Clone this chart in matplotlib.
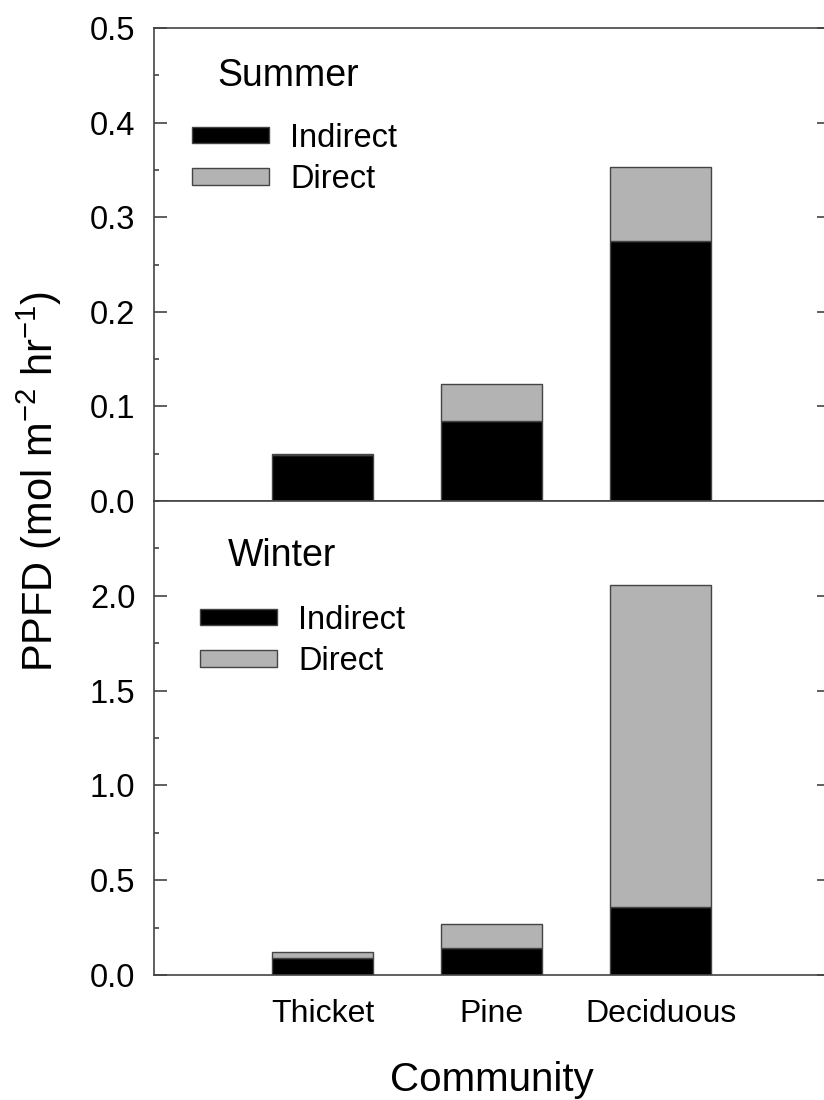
import matplotlib
matplotlib.use("Agg")
import matplotlib.pyplot as plt
from matplotlib.patches import Patch
from matplotlib.ticker import MultipleLocator, FormatStrFormatter

communities = ["Thicket", "Pine", "Deciduous"]
summer_indirect = [0.049, 0.085, 0.275]
summer_direct = [0.001, 0.039, 0.078]
winter_indirect = [0.088, 0.141, 0.360]
winter_direct = [0.035, 0.127, 1.698]

plt.rcParams['font.family'] = ['Liberation Sans', 'DejaVu Sans']
plt.rcParams['mathtext.default'] = 'regular'

edge = '#444444'
grey = '#b3b3b3'

fig = plt.figure(figsize=(8.24, 11), dpi=100)
ax1 = fig.add_axes([0.1863, 0.5445, 0.8204, 0.4300])
ax2 = fig.add_axes([0.1863, 0.1136, 0.8204, 0.4309])

x = [1, 2, 3]

def panel(ax, indirect, direct, ylim, major, minor, title, tx, ty, lx, ly):
    ax.bar(x, indirect, width=0.6, color='black', edgecolor=edge, linewidth=1)
    ax.bar(x, direct, width=0.6, bottom=indirect, color=grey, edgecolor=edge, linewidth=1)
    ax.set_xlim(0, 4)
    ax.set_ylim(*ylim)
    ax.yaxis.set_major_locator(MultipleLocator(major))
    ax.yaxis.set_minor_locator(MultipleLocator(minor))
    ax.yaxis.set_major_formatter(FormatStrFormatter('%.1f'))
    ax.yaxis.set_ticks_position('both')
    ax.tick_params(axis='y', which='major', direction='in', length=9.5, width=1.2,
                   color=edge, labelsize=23.5, pad=13)
    ax.tick_params(axis='y', which='minor', direction='in', length=3.6, width=1.2, color=edge)
    for s in ax.spines.values():
        s.set_color(edge)
        s.set_linewidth(1.2)
    ax.text(tx, ty, title, transform=ax.transAxes, fontsize=27, va='center', ha='left')
    handles = [Patch(facecolor='black', edgecolor=edge, label='Indirect'),
               Patch(facecolor=grey, edgecolor=edge, label='Direct')]
    ax.legend(handles=handles, loc='center left', bbox_to_anchor=(lx, ly), frameon=False,
              fontsize=23.5, handlelength=2.36, handleheight=0.4, handletextpad=0.64,
              labelspacing=0.32, borderpad=0, borderaxespad=0)

panel(ax1, summer_indirect, summer_direct, (0, 0.5), 0.1, 0.05, 'Summer', 0.094, 0.899, 0.057, 0.723)
panel(ax2, winter_indirect, winter_direct, (0, 2.5), 0.5, 0.25, 'Winter', 0.110, 0.884, 0.069, 0.705)

ax1.set_xticks([])
ax2.set_yticks([0, 0.5, 1.0, 1.5, 2.0])
ax2.set_xticks(x)
ax2.set_xticklabels(communities)
ax2.tick_params(axis='x', length=0, labelsize=23, pad=17)
ax2.set_xlabel('Community', fontsize=29, labelpad=23)

fig.text(39 / 824, 1 - 481 / 1100, 'PPFD (mol m$^{-2}$ hr$^{-1}$)', rotation=90,
         fontsize=30, ha='center', va='center')

fig.savefig('out.png', dpi=100)
